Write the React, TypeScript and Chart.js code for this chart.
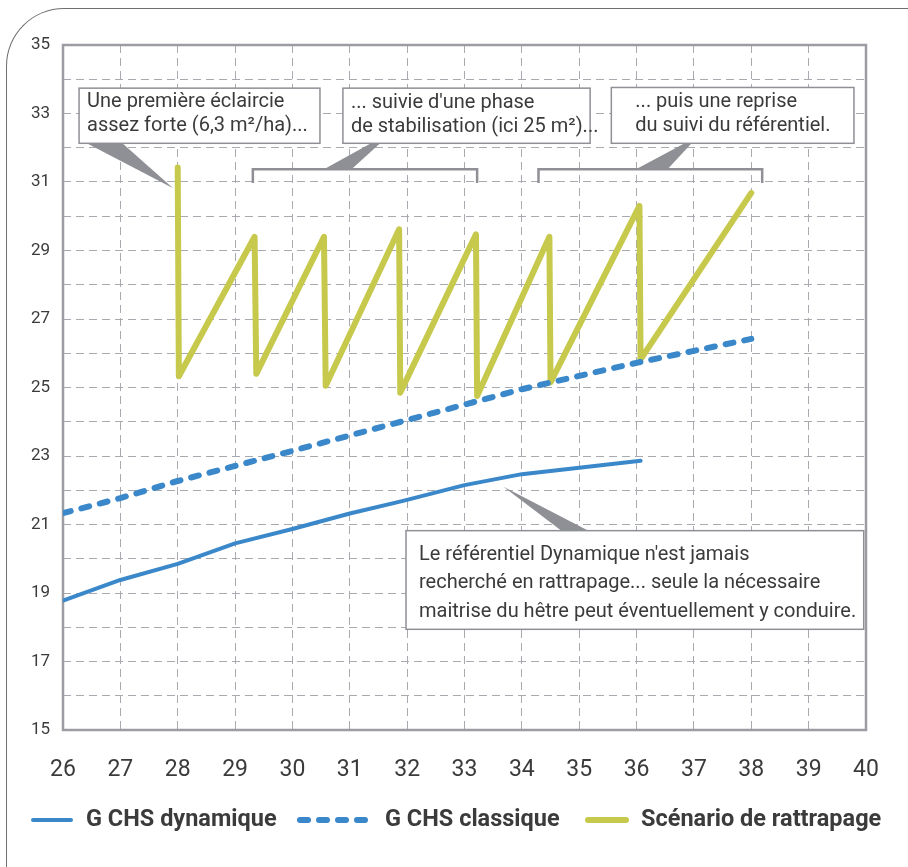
import React, { useEffect, useRef } from "react";
import { Chart, registerables } from "chart.js";

Chart.register(...registerables);

// ---- Data ----
const seriesNames = ["G CHS dynamique", "G CHS classique", "Scénario de rattrapage"];

const dynX = [26, 27, 28, 29, 30, 31, 31.93, 33, 34, 35, 36.07];
const dynY = [18.78, 19.38, 19.85, 20.45, 20.87, 21.32, 21.69, 22.15, 22.47, 22.66, 22.86];

const claX = [26, 27, 28, 29, 30, 31, 32, 33, 34, 35, 36, 37, 38];
const claY = [21.33, 21.77, 22.27, 22.71, 23.15, 23.6, 24.05, 24.5, 24.95, 25.34, 25.72, 26.07, 26.42];

const scnX = [28, 28.02, 29.34, 29.37, 30.55, 30.58, 31.86, 31.88, 33.2, 33.22, 34.48, 34.5, 36.05, 36.07, 38.0];
const scnY = [31.42, 25.33, 29.4, 25.4, 29.4, 25.05, 29.62, 24.85, 29.47, 24.75, 29.4, 25.15, 30.3, 25.82, 30.68];

const yLabelValues = [15, 17, 19, 21, 23, 25, 27, 29, 31, 33, 35];

const note1 = ["Une première éclaircie", "assez forte (6,3 m²/ha)..."];
const note2 = ["... suivie d'une phase", "de stabilisation (ici 25 m²)..."];
const note3 = ["... puis une reprise", "du suivi du référentiel."];
const note4 = [
  "Le référentiel Dynamique n'est jamais",
  "recherché en rattrapage... seule la nécessaire",
  "maitrise du hêtre peut éventuellement y conduire.",
];

const BLUE = "#3a88c9";
const GREEN = "#c6c94b";
const GRAY = "#8f9095";
const TEXT = "#3b3b3b";
const FONT = "Roboto";

const overlayPlugin = {
  id: "overlay",
  beforeDatasetsDraw(chart: any) {
    const { ctx, chartArea } = chart;
    ctx.save();
    ctx.strokeStyle = "#9c9da2";
    ctx.lineWidth = 2.5;
    ctx.setLineDash([]);
    ctx.strokeRect(chartArea.left, chartArea.top, chartArea.right - chartArea.left, chartArea.bottom - chartArea.top);
    ctx.restore();
  },
  afterDatasetsDraw(chart: any) {
    const { ctx } = chart;
    const xs = chart.scales.x;
    const ys = chart.scales.y;
    const px = (v: number) => xs.getPixelForValue(v);
    const py = (v: number) => ys.getPixelForValue(v);
    ctx.save();
    ctx.setLineDash([]);

    // brackets
    const bracket = (x1: number, x2: number) => {
      ctx.beginPath();
      ctx.strokeStyle = GRAY;
      ctx.lineWidth = 2.5;
      ctx.lineJoin = "miter";
      ctx.moveTo(px(x1), py(30.97));
      ctx.lineTo(px(x1), py(31.37));
      ctx.lineTo(px(x2), py(31.37));
      ctx.lineTo(px(x2), py(30.97));
      ctx.stroke();
    };
    bracket(29.31, 33.22);
    bracket(34.29, 38.19);

    // pointers
    const poly = (pts: number[][]) => {
      ctx.beginPath();
      ctx.fillStyle = GRAY;
      pts.forEach((p, i) => (i === 0 ? ctx.moveTo(px(p[0]), py(p[1])) : ctx.lineTo(px(p[0]), py(p[1]))));
      ctx.closePath();
      ctx.fill();
    };
    poly([[26.44, 32.11], [27.05, 32.11], [27.92, 30.82]]);
    poly([[31.37, 32.13], [31.53, 32.13], [31.03, 31.37], [30.55, 31.37]]);
    poly([[36.84, 32.13], [36.96, 32.13], [36.54, 31.37], [35.99, 31.37]]);
    poly([[33.68, 22.1], [34.69, 20.82], [35.16, 20.82]]);

    // boxes
    const box = (x1: number, y1: number, x2: number, y2: number, lines: string[], padX: number, firstY: number, lh: number) => {
      const L = px(x1), T = py(y1), R = px(x2), B = py(y2);
      ctx.fillStyle = "#ffffff";
      ctx.fillRect(L, T, R - L, B - T);
      ctx.strokeStyle = GRAY;
      ctx.lineWidth = 1.5;
      ctx.strokeRect(L, T, R - L, B - T);
      ctx.fillStyle = TEXT;
      ctx.font = `20px ${FONT}`;
      ctx.textBaseline = "middle";
      ctx.textAlign = "left";
      lines.forEach((t, i) => ctx.fillText(t, L + padX, T + firstY + i * lh));
    };
    box(26.28, 33.74, 30.48, 32.13, note1, 8, 14, 24);
    box(30.88, 33.74, 35.19, 32.13, note2, 8, 15, 24);
    box(35.56, 33.76, 39.79, 32.13, note3, 24, 15, 24);
    box(31.98, 20.82, 39.96, 17.94, note4, 13, 24, 28.5);

    // legend
    const ly = 820;
    ctx.lineCap = "round";
    ctx.strokeStyle = BLUE;
    ctx.lineWidth = 4;
    ctx.beginPath();
    ctx.moveTo(33, ly);
    ctx.lineTo(71, ly);
    ctx.stroke();
    ctx.lineWidth = 6;
    ctx.setLineDash([8, 11]);
    ctx.beginPath();
    ctx.moveTo(300, ly);
    ctx.lineTo(373, ly);
    ctx.stroke();
    ctx.setLineDash([]);
    ctx.strokeStyle = GREEN;
    ctx.beginPath();
    ctx.moveTo(588, ly);
    ctx.lineTo(626, ly);
    ctx.stroke();
    ctx.fillStyle = TEXT;
    ctx.font = `bold 23.5px ${FONT}`;
    ctx.textBaseline = "middle";
    ctx.fillText(seriesNames[0], 86, ly);
    ctx.fillText(seriesNames[1], 385, ly);
    ctx.fillText(seriesNames[2], 641, ly);
    ctx.restore();
  },
};

export default function App() {
  const ref = useRef<HTMLCanvasElement | null>(null);
  useEffect(() => {
    if (!ref.current) return;
    const toPts = (xs: number[], ys: number[]) => xs.map((x, i) => ({ x, y: ys[i] }));
    const chart = new Chart(ref.current, {
      type: "line",
      data: {
        datasets: [
          {
            label: seriesNames[0],
            data: toPts(dynX, dynY),
            borderColor: BLUE,
            borderWidth: 4,
            pointRadius: 0,
            tension: 0,
            borderJoinStyle: "round",
            borderCapStyle: "round",
          },
          {
            label: seriesNames[1],
            data: toPts(claX, claY),
            borderColor: BLUE,
            borderWidth: 6,
            borderDash: [8, 11],
            pointRadius: 0,
            tension: 0,
            borderCapStyle: "round",
          },
          {
            label: seriesNames[2],
            data: toPts(scnX, scnY),
            borderColor: GREEN,
            borderWidth: 6,
            pointRadius: 0,
            tension: 0,
            borderJoinStyle: "round",
            borderCapStyle: "round",
          },
        ],
      } as any,
      options: {
        animation: false,
        responsive: false,
        devicePixelRatio: 1,
        layout: { padding: { top: 45, right: 42, left: 0, bottom: 0 } },
        plugins: { legend: { display: false }, tooltip: { enabled: false } },
        font: { family: FONT },
        scales: {
          x: {
            type: "linear",
            min: 26,
            max: 40,
            ticks: { stepSize: 1, autoSkip: false, font: { family: FONT, size: 23 }, color: TEXT, padding: 26 },
            grid: { color: "#a9aaaf", lineWidth: 1, drawTicks: false },
            border: { display: false, dash: [8, 5] },
            afterFit: (s: any) => {
              s.height = 137;
            },
          },
          y: {
            type: "linear",
            min: 15,
            max: 35,
            ticks: {
              stepSize: 1,
              autoSkip: false,
              font: { family: FONT, size: 17 },
              color: TEXT,
              padding: 13,
              callback: (v: any) => (yLabelValues.includes(Number(v)) ? String(v) : ""),
            },
            grid: { color: "#a9aaaf", lineWidth: 1, drawTicks: false },
            border: { display: false, dash: [8, 5] },
            afterFit: (s: any) => {
              s.width = 63;
            },
          },
        },
      } as any,
      plugins: [overlayPlugin],
    });
    return () => chart.destroy();
  }, []);

  return (
    <div style={{ position: "absolute", left: 0, top: 0, width: 908, height: 867, overflow: "hidden", background: "#fff" }}>
      <div
        style={{
          position: "absolute",
          left: 6,
          top: 8,
          width: 960,
          height: 960,
          borderTop: "1.5px solid #6f6f6f",
          borderLeft: "1.5px solid #6f6f6f",
          borderTopLeftRadius: 58,
          boxSizing: "border-box",
        }}
      />
      <canvas ref={ref} width={908} height={867} style={{ position: "absolute", left: 0, top: 0, width: 908, height: 867 }} />
    </div>
  );
}
